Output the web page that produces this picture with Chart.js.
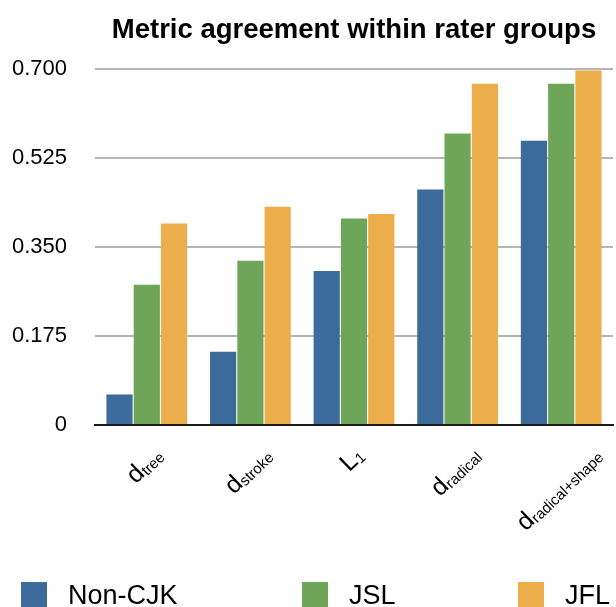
<!DOCTYPE html>
<html>
<head>
<meta charset="utf-8">
<title>Metric agreement within rater groups</title>
<script src="https://cdn.jsdelivr.net/npm/chart.js@4.4.1/dist/chart.umd.min.js"></script>
<style>
  html, body { margin: 0; padding: 0; background: #fff; overflow: hidden; }
  #wrap { position: relative; width: 616px; height: 607px; }
  #legend {
    position: absolute; left: 0; top: 582px; width: 616px; height: 26px;
    font-family: 'Liberation Sans', Helvetica, Arial, sans-serif;
    font-size: 27px; line-height: 26px; color: #000;
  }
  #legend .item { position: absolute; top: 0; white-space: nowrap; }
  #legend .box { display: inline-block; width: 26px; height: 26px; vertical-align: top; margin-right: 21px; }
</style>
</head>
<body>
<div id="wrap">
  <canvas id="chart" width="616" height="607"></canvas>
  <div id="legend"></div>
</div>
<script>
// category labels are drawn as base letter + subscript
var categoryBase = ['d', 'd', 'L', 'd', 'd'];
var categorySub = ['tree', 'stroke', '1', 'radical', 'radical+shape'];

var seriesNames = ['Non-CJK', 'JSL', 'JFL'];
var nonCjk = [0.060, 0.144, 0.303, 0.463, 0.559];
var jsl = [0.276, 0.323, 0.406, 0.573, 0.671];
var jfl = [0.396, 0.429, 0.415, 0.671, 0.697];

var yTicks = [0, 0.175, 0.350, 0.525, 0.700];
var yTickLabels = ['0', '0.175', '0.350', '0.525', '0.700'];

var colors = ['#3c6a9b', '#6fa559', '#ecae4b'];
var legendLeft = [21, 302, 518];

var FONT = "'Liberation Sans', Helvetica, Arial, sans-serif";
Chart.defaults.font.family = FONT;
Chart.defaults.color = '#000';

/**
 * Draw the rotated x labels with subscripts.
 */
var subscriptLabels = {
    id: 'subscriptLabels',
    afterDraw: function(chart) {
        var ctx = chart.ctx;
        var xScale = chart.scales.x;
        var angle = 44 * Math.PI / 180;
        var baseFont = '25px ' + FONT;
        var subFont = '15px ' + FONT;
        var top = chart.chartArea.bottom + 19;

        ctx.save();
        ctx.fillStyle = '#000';
        ctx.textAlign = 'left';
        ctx.textBaseline = 'alphabetic';
        categoryBase.forEach(function(base, i) {
            ctx.font = baseFont;
            var wBase = ctx.measureText(base).width;
            ctx.font = subFont;
            var wSub = ctx.measureText(categorySub[i]).width;
            var w = wBase + wSub;
            var h = 18;
            var halfH = w / 2 * Math.sin(angle) + h / 2 * Math.cos(angle);
            var x = xScale.getPixelForTick(i) - 3;

            ctx.save();
            ctx.translate(x, top + halfH);
            ctx.rotate(-angle);
            ctx.font = baseFont;
            ctx.fillText(base, -w / 2, 9);
            ctx.font = subFont;
            ctx.fillText(categorySub[i], -w / 2 + wBase, 11);
            ctx.restore();
        });
        ctx.restore();
    }
};

var seriesData = [nonCjk, jsl, jfl];

new Chart(document.getElementById('chart'), {
    type: 'bar',
    data: {
        labels: categoryBase.map(function(b, i) { return b + categorySub[i]; }),
        datasets: seriesNames.map(function(name, i) {
            return {
                label: name,
                data: seriesData[i],
                backgroundColor: colors[i],
                borderWidth: 0,
                barPercentage: 0.96,
                categoryPercentage: 0.79
            };
        })
    },
    options: {
        responsive: false,
        animation: false,
        layout: {
            padding: {left: 12, right: 3, top: 0, bottom: 0}
        },
        scales: {
            x: {
                grid: {display: false},
                border: {display: true, color: '#1a1a1a', width: 2},
                ticks: {display: false},
                afterFit: function(scale) {
                    scale.height = 182;
                }
            },
            y: {
                min: 0,
                max: 0.7,
                afterBuildTicks: function(scale) {
                    scale.ticks = yTicks.map(function(v) {
                        return {value: v};
                    });
                },
                afterFit: function(scale) {
                    scale.width = 83;
                },
                border: {display: false},
                grid: {
                    drawTicks: false,
                    lineWidth: 2,
                    color: function(c) {
                        return c.tick && c.tick.value === 0 ? '#1a1a1a' : '#b5b5b5';
                    }
                },
                ticks: {
                    padding: 28,
                    font: {size: 22},
                    color: '#000',
                    callback: function(value, index) {
                        return yTickLabels[index];
                    }
                }
            }
        },
        plugins: {
            legend: {display: false},
            tooltip: {enabled: false},
            title: {
                display: true,
                text: 'Metric agreement within rater groups',
                fullSize: false,
                color: '#000',
                font: {size: 27.5, weight: 'bold'},
                padding: {top: 14, bottom: 22}
            }
        }
    },
    plugins: [subscriptLabels]
});

// legend below the chart
var legend = document.getElementById('legend');
seriesNames.forEach(function(name, i) {
    var item = document.createElement('div');
    item.className = 'item';
    item.style.left = legendLeft[i] + 'px';
    var box = document.createElement('span');
    box.className = 'box';
    box.style.background = colors[i];
    item.appendChild(box);
    item.appendChild(document.createTextNode(name));
    legend.appendChild(item);
});
</script>
</body>
</html>
